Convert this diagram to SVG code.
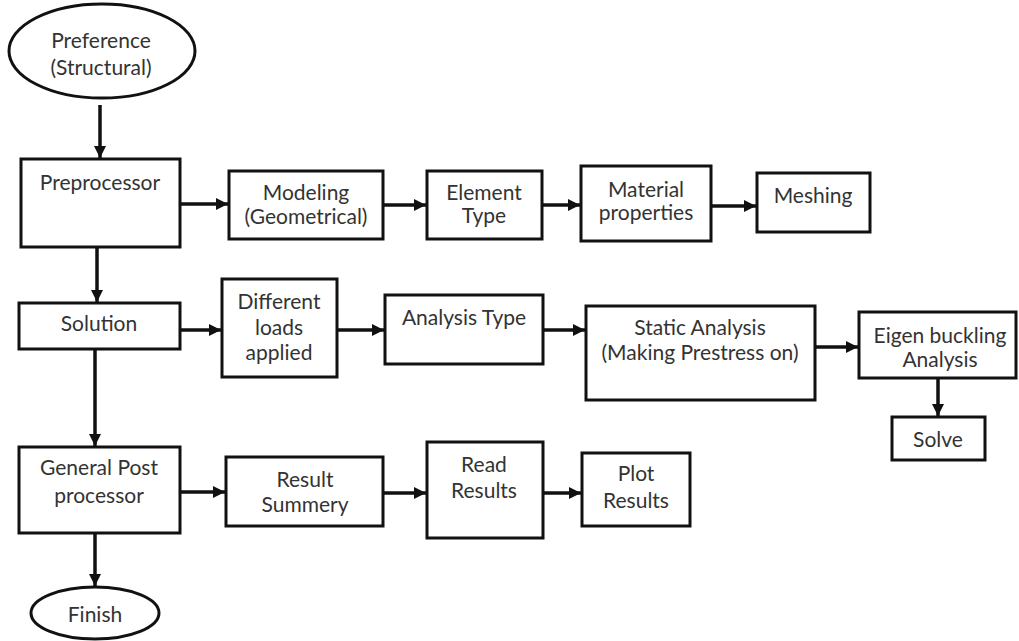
<svg xmlns="http://www.w3.org/2000/svg" width="1019" height="641" viewBox="0 0 1019 641">
<style>
.box{fill:#fff;stroke:#111;stroke-width:3}
.t{font-family:Lato,"Liberation Sans",sans-serif;font-size:21px;fill:#333;text-anchor:middle}
.c{stroke:#111;stroke-width:3.5;fill:none;marker-end:url(#ah)}
</style>
<defs>
<marker id="ah" markerUnits="userSpaceOnUse" markerWidth="14" markerHeight="14" refX="12" refY="6" orient="auto">
<path d="M0,0 L12,6 L0,12 Z" fill="#111"/>
</marker>
</defs>
<rect width="1019" height="641" fill="#fff"/>
<g id="connectors">
<line class="c" x1="100" y1="105" x2="100" y2="158"/>
<line class="c" x1="180" y1="204" x2="228" y2="204"/>
<line class="c" x1="383" y1="205" x2="426" y2="205"/>
<line class="c" x1="542" y1="205" x2="580" y2="205"/>
<line class="c" x1="711" y1="206" x2="756" y2="206"/>
<line class="c" x1="97" y1="247" x2="97" y2="302"/>
<line class="c" x1="180" y1="330" x2="221" y2="330"/>
<line class="c" x1="337" y1="330" x2="384" y2="330"/>
<line class="c" x1="543" y1="330" x2="585" y2="330"/>
<line class="c" x1="815" y1="347" x2="858" y2="347"/>
<line class="c" x1="938" y1="378" x2="938" y2="416"/>
<line class="c" x1="95" y1="349" x2="95" y2="446"/>
<line class="c" x1="180" y1="492" x2="225" y2="492"/>
<line class="c" x1="383" y1="493" x2="426" y2="493"/>
<line class="c" x1="543" y1="493" x2="581" y2="493"/>
<line class="c" x1="95" y1="533" x2="95" y2="586"/>
</g>
<g id="preference">
<ellipse class="box" cx="102" cy="51" rx="93" ry="47"/>
<text class="t" x="101" y="48">Preference</text>
<text class="t" x="101" y="75">(Structural)</text>
</g>
<g id="preprocessor">
<rect class="box" x="21" y="159" width="159" height="88"/>
<text class="t" x="100" y="190">Preprocessor</text>
</g>
<g id="modeling">
<rect class="box" x="229" y="171" width="154" height="68"/>
<text class="t" x="306" y="200">Modeling</text>
<text class="t" x="306" y="224">(Geometrical)</text>
</g>
<g id="element-type">
<rect class="box" x="427" y="171" width="115" height="68"/>
<text class="t" x="484" y="200">Element</text>
<text class="t" x="484" y="223">Type</text>
</g>
<g id="material">
<rect class="box" x="581" y="166" width="130" height="75"/>
<text class="t" x="646" y="197">Material</text>
<text class="t" x="646" y="220">properties</text>
</g>
<g id="meshing">
<rect class="box" x="757" y="173" width="113" height="59"/>
<text class="t" x="813" y="203">Meshing</text>
</g>
<g id="solution">
<rect class="box" x="19" y="303" width="161" height="46"/>
<text class="t" x="99" y="331">Solution</text>
</g>
<g id="different-loads">
<rect class="box" x="222" y="279" width="115" height="98"/>
<text class="t" x="279" y="309">Different</text>
<text class="t" x="279" y="335">loads</text>
<text class="t" x="279" y="360">applied</text>
</g>
<g id="analysis-type">
<rect class="box" x="385" y="295" width="158" height="69"/>
<text class="t" x="464" y="325">Analysis Type</text>
</g>
<g id="static-analysis">
<rect class="box" x="586" y="306" width="229" height="94"/>
<text class="t" x="700" y="335">Static Analysis</text>
<text class="t" x="700" y="360">(Making Prestress on)</text>
</g>
<g id="eigen-buckling">
<rect class="box" x="859" y="312" width="157" height="66"/>
<text class="t" x="940" y="343">Eigen buckling</text>
<text class="t" x="940" y="367">Analysis</text>
</g>
<g id="solve">
<rect class="box" x="892" y="417" width="93" height="43"/>
<text class="t" x="938" y="447">Solve</text>
</g>
<g id="general-post">
<rect class="box" x="19" y="447" width="161" height="86"/>
<text class="t" x="99" y="475">General Post</text>
<text class="t" x="99" y="503">processor</text>
</g>
<g id="result-summery">
<rect class="box" x="226" y="457" width="157" height="69"/>
<text class="t" x="305" y="487">Result</text>
<text class="t" x="305" y="512">Summery</text>
</g>
<g id="read-results">
<rect class="box" x="427" y="442" width="116" height="96"/>
<text class="t" x="484" y="472">Read</text>
<text class="t" x="484" y="498">Results</text>
</g>
<g id="plot-results">
<rect class="box" x="582" y="453" width="108" height="73"/>
<text class="t" x="636" y="481">Plot</text>
<text class="t" x="636" y="508">Results</text>
</g>
<g id="finish">
<ellipse class="box" cx="95" cy="613" rx="64" ry="26"/>
<text class="t" x="95" y="622">Finish</text>
</g>
</svg>
